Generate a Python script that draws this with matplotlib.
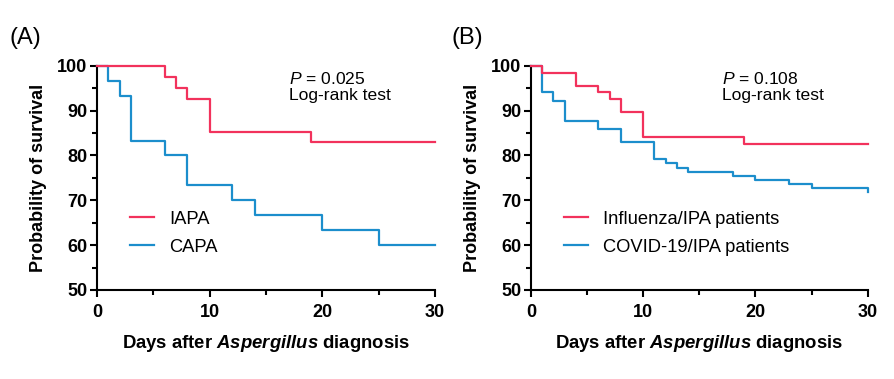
import numpy as np
import matplotlib.pyplot as plt
from matplotlib.ticker import MultipleLocator

plt.rcParams['font.family'] = ['Liberation Sans', 'DejaVu Sans']
plt.rcParams['mathtext.fontset'] = 'custom'
plt.rcParams['mathtext.rm'] = 'Liberation Sans'
plt.rcParams['mathtext.it'] = 'Liberation Sans:italic'
plt.rcParams['mathtext.bf'] = 'Liberation Sans:bold'
plt.rcParams['mathtext.bfit'] = 'Liberation Sans:italic:bold'

# panel A: IAPA vs CAPA
iapa_days = [0, 6, 7, 8, 10, 19, 30]
iapa_surv = [100, 97.5, 95.0, 92.6, 85.3, 82.9, 82.9]
capa_days = [0, 1, 2, 3, 6, 8, 12, 14, 20, 25, 30]
capa_surv = [100, 96.7, 93.3, 83.3, 80.0, 73.3, 70.0, 66.7, 63.3, 60.0, 60.0]

# panel B: influenza/IPA vs COVID-19/IPA
flu_days = [0, 1, 4, 6, 7, 8, 10, 19, 30]
flu_surv = [100, 98.4, 95.5, 94.1, 92.6, 89.7, 84.0, 82.5, 82.5]
cov_days = [0, 1, 2, 3, 6, 8, 11, 12, 13, 14, 18, 20, 23, 25, 30]
cov_surv = [100, 94.2, 92.2, 87.7, 85.8, 83.1, 79.3, 78.4, 77.3, 76.4, 75.5,
            74.5, 73.6, 72.7, 71.9]

RED = '#F2325C'
BLUE = '#1C8ECC'


def style_axis(ax):
  for s in ['top', 'right']:
    ax.spines[s].set_visible(False)
  for s in ['left', 'bottom']:
    ax.spines[s].set_linewidth(1.5)
  ax.set_xlim(0, 30)
  ax.set_ylim(50, 100)
  ax.xaxis.set_major_locator(MultipleLocator(10))
  ax.xaxis.set_minor_locator(MultipleLocator(5))
  ax.yaxis.set_major_locator(MultipleLocator(10))
  ax.yaxis.set_minor_locator(MultipleLocator(5))
  ax.tick_params(which='major', length=5, width=1.5, labelsize=13, pad=2)
  ax.tick_params(axis='x', which='major', pad=5)
  ax.tick_params(which='minor', length=3.5, width=1.5)
  for lab in ax.get_xticklabels() + ax.get_yticklabels():
    lab.set_fontweight('bold')
  ax.set_ylabel('Probability of survival', fontsize=13, fontweight='bold', labelpad=7)
  ax.set_xlabel('Days after $\\mathbfit{Aspergillus}$ diagnosis', fontsize=13.3,
                fontweight='bold', labelpad=9)


def km_panel(ax, d1, s1, lab1, d2, s2, lab2, pval):
  ax.step(d1, s1, where='post', color=RED, lw=1.6, label=lab1, clip_on=False, zorder=3)
  ax.step(d2, s2, where='post', color=BLUE, lw=1.6, label=lab2, clip_on=False, zorder=2)
  style_axis(ax)
  ax.text(17.0, 98.8, '$\\it{P}$ = ' + pval + '\nLog-rank test', fontsize=12.6,
          va='top', ha='left', linespacing=1.1)
  ax.legend(loc='lower left', bbox_to_anchor=(0.05, 0.08), frameon=False,
            fontsize=13.2, handlelength=1.3, handletextpad=0.8, labelspacing=0.6)


fig = plt.figure(figsize=(8.95, 3.79), dpi=100)
ax1 = fig.add_axes([97/895, 1-290/379, (435-97)/895, (290-65.7)/379])
ax2 = fig.add_axes([531/895, 1-290/379, (867.7-531)/895, (290-65.7)/379])

km_panel(ax1, iapa_days, iapa_surv, 'IAPA', capa_days, capa_surv, 'CAPA', '0.025')
km_panel(ax2, flu_days, flu_surv, 'Influenza/IPA patients',
         cov_days, cov_surv, 'COVID-19/IPA patients', '0.108')

fig.text(10/895, 1-38/379, '(A)', fontsize=17, va='center', ha='left')
fig.text(452/895, 1-38/379, '(B)', fontsize=17, va='center', ha='left')

plt.savefig('out.png', dpi=100)
